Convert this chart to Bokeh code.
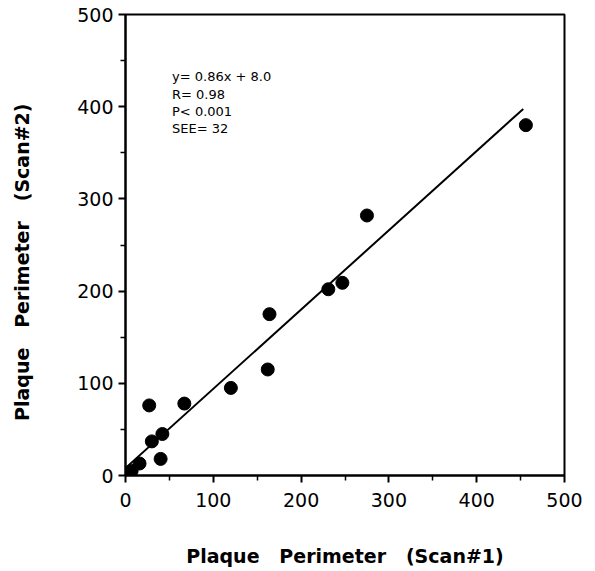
from bokeh.plotting import figure
from bokeh.models import Range1d, FixedTicker, Label, Title
from bokeh.embed import file_html
from bokeh.resources import INLINE

# Data
scan1 = [0, 7, 16, 27, 30, 40, 42, 67, 120, 162, 164, 231, 247, 275, 456]
scan2 = [0, 5, 13, 76, 37, 18, 45, 78, 95, 115, 175, 202, 209, 282, 380]
fit_slope = 0.86
fit_intercept = 8.0
fit_x = [0, 453]
fit_y = [fit_intercept + fit_slope * v for v in fit_x]
stats_lines = ["y= 0.86x + 8.0", "R= 0.98", "P< 0.001", "SEE= 32"]
major_ticks = [0, 100, 200, 300, 400, 500]
minor_ticks = [50, 150, 250, 350, 450]
NB = "\u00a0"
x_title = f"Plaque{NB*3}Perimeter{NB*3}(Scan#1)"
y_title = f"Plaque{NB*3}Perimeter{NB*3}(Scan#2)"

FONT = "DejaVu Sans"

p = figure(width=590, height=569, output_backend="svg", toolbar_location=None,
           x_range=Range1d(0, 500), y_range=Range1d(0, 500),
           min_border_left=125, min_border_right=26, min_border_top=14, min_border_bottom=94)
p.grid.visible = False
p.background_fill_color = "white"
p.border_fill_color = "white"
p.outline_line_color = "black"
p.outline_line_width = 2

for ax in (p.xaxis[0], p.yaxis[0]):
    ax.ticker = FixedTicker(ticks=major_ticks, minor_ticks=minor_ticks)
    ax.axis_line_width = 2
    ax.major_tick_line_width = 2
    ax.minor_tick_line_width = 1.5
    ax.major_tick_out = 7
    ax.major_tick_in = 0
    ax.minor_tick_out = 5
    ax.minor_tick_in = 0
    ax.major_label_text_font = FONT
    ax.major_label_text_font_size = "19px"
    ax.major_label_text_color = "black"

p.xaxis[0].major_label_standoff = 10
p.yaxis[0].major_label_standoff = 5
p.xaxis[0].axis_label = x_title
p.xaxis[0].axis_label_text_font = FONT
p.xaxis[0].axis_label_text_font_style = "bold"
p.xaxis[0].axis_label_text_font_size = "19px"
p.xaxis[0].axis_label_text_color = "black"
p.xaxis[0].axis_label_standoff = 35

# spacer so that the y title sits far to the left, as in the reference
p.yaxis[0].axis_label = NB
p.yaxis[0].axis_label_text_font_size = "1px"
p.yaxis[0].axis_label_standoff = 38

ytitle = Title(text=y_title, align="right", offset=89,
               text_font=FONT, text_font_style="bold", text_font_size="19px",
               text_color="black", standoff=0)
p.add_layout(ytitle, "left")

p.line(fit_x, fit_y, line_color="black", line_width=2)
p.scatter(scan1, scan2, marker="circle", size=13, fill_color="black", line_color="black")

stat_y = [432.5, 413, 394.5, 376]
for t, yy in zip(stats_lines, stat_y):
    p.add_layout(Label(x=53, y=yy, text=t, text_font=FONT, text_font_size="13px",
                       text_baseline="alphabetic", text_color="black"))

open("out.html", "w").write(file_html(p, INLINE))
